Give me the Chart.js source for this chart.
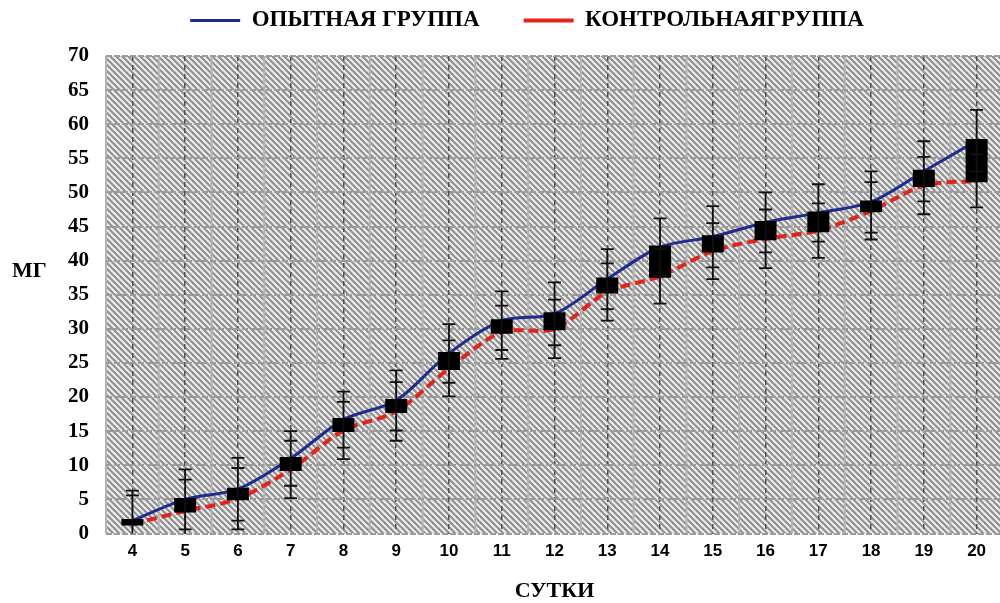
<!DOCTYPE html>
<html>
<head>
<meta charset="utf-8">
<script src="https://cdn.jsdelivr.net/npm/chart.js@4/dist/chart.umd.min.js"></script>
<style>
  html, body { margin: 0; padding: 0; background: #fff; overflow: hidden; }
  #wrap { width: 1003px; height: 603px; position: relative; }
</style>
</head>
<body>
<div id="wrap"><canvas id="grafico"></canvas></div>
<script>
// сутки
var dias = ['4', '5', '6', '7', '8', '9', '10', '11', '12', '13', '14', '15', '16', '17', '18', '19', '20'];
// опытная группа, мг
var opytnaya = [1.9, 5.0, 6.5, 11.0, 16.7, 19.5, 26.4, 31.2, 32.2, 37.3, 42.0, 43.5, 45.6, 47.0, 48.6, 53.1, 57.6];
// контрольная группа, мг
var kontrol = [1.4, 3.3, 5.1, 9.4, 15.1, 17.9, 24.2, 29.5, 30.0, 35.4, 37.7, 41.4, 43.2, 44.4, 47.3, 51.0, 51.7];
// отклонения
var errOpyt = [4.4, 4.4, 4.6, 4.0, 4.1, 4.4, 4.3, 4.3, 4.6, 4.4, 4.2, 4.5, 4.4, 4.2, 4.5, 4.4, 4.5];
var errKontr = [4.2, 4.6, 4.5, 4.2, 4.2, 4.3, 4.1, 3.9, 4.3, 4.2, 4.0, 4.1, 4.3, 4.0, 4.2, 4.2, 3.9];
// ось Y
var yMin = 0, yMax = 70, yStep = 5;

var nomeOpyt = 'ОПЫТНАЯ ГРУППА';
var nomeKontr = 'КОНТРОЛЬНАЯГРУППА';

// штриховка фона
function hatch(ctx) {
  var s = 6;
  var c = document.createElement('canvas');
  c.width = s; c.height = s;
  var g = c.getContext('2d');
  g.fillStyle = '#eeeeee';
  g.fillRect(0, 0, s, s);
  g.strokeStyle = '#909090';
  g.lineWidth = 2.2;
  for (var k = -s; k <= s; k += s) {
    g.beginPath();
    g.moveTo(k - 1, -1);
    g.lineTo(k + s + 1, s + 1);
    g.stroke();
  }
  return ctx.createPattern(c, 'repeat');
}

var fundo = {
  id: 'fundo',
  beforeDraw(chart) {
    var a = chart.chartArea, ctx = chart.ctx, x = chart.scales.x;
    ctx.save();
    ctx.fillStyle = hatch(ctx);
    ctx.fillRect(a.left, a.top, a.right - a.left, a.bottom - a.top);
    // linhas entre categorias
    ctx.strokeStyle = '#b4b4b4';
    ctx.lineWidth = 2;
    for (var i = -1; i < dias.length; i++) {
      var px = (x.getPixelForValue(i) + x.getPixelForValue(i + 1)) / 2;
      ctx.beginPath();
      ctx.moveTo(px, a.top);
      ctx.lineTo(px, a.bottom);
      ctx.stroke();
    }
    ctx.restore();
  },
  afterDraw(chart) {
    var a = chart.chartArea, ctx = chart.ctx;
    ctx.save();
    ctx.fillStyle = '#000';
    ctx.font = 'bold 22px "Liberation Serif"';
    ctx.textBaseline = 'middle';
    ctx.fillText('МГ', 12, a.top + (a.bottom - a.top) * 0.45);
    ctx.restore();
  }
};

var barrasErro = {
  id: 'barrasErro',
  afterDatasetsDraw(chart) {
    var a = chart.chartArea, ctx = chart.ctx;
    var x = chart.scales.x, y = chart.scales.y;
    ctx.save();
    ctx.beginPath();
    ctx.rect(a.left, a.top, a.right - a.left, a.bottom - a.top);
    ctx.clip();
    ctx.strokeStyle = '#111';
    ctx.lineWidth = 1.8;
    dias.forEach(function (d, i) {
      var px = x.getPixelForValue(i);
      var ends = [opytnaya[i] + errOpyt[i], opytnaya[i] - errOpyt[i], kontrol[i] + errKontr[i], kontrol[i] - errKontr[i]];
      var top = Math.max.apply(null, ends), bot = Math.min.apply(null, ends);
      ctx.beginPath();
      ctx.moveTo(px, y.getPixelForValue(top));
      ctx.lineTo(px, y.getPixelForValue(bot));
      ends.forEach(function (v) {
        var py = y.getPixelForValue(v);
        ctx.moveTo(px - 6.5, py);
        ctx.lineTo(px + 6.5, py);
      });
      ctx.stroke();
    });
    ctx.restore();
  }
};

new Chart(document.getElementById('grafico'), {
  data: {
    labels: dias,
    datasets: [{
      type: 'line',
      label: nomeOpyt,
      data: opytnaya,
      borderColor: '#1f2b8f',
      backgroundColor: '#1f2b8f',
      borderWidth: 3,
      pointRadius: 0,
      tension: 0.3,
      order: 2
    }, {
      type: 'line',
      label: nomeKontr,
      data: kontrol,
      borderColor: '#e3241a',
      backgroundColor: '#e3241a',
      borderWidth: 4,
      borderDash: [10, 5],
      pointRadius: 0,
      tension: 0.3,
      order: 3
    }, {
      type: 'bar',
      label: 'updown',
      data: dias.map(function (d, i) { return [kontrol[i], opytnaya[i]]; }),
      backgroundColor: '#000',
      barThickness: 19,
      inflateAmount: 1.5,
      order: 1
    }]
  },
  options: {
    responsive: true,
    maintainAspectRatio: false,
    animation: false,
    // topo negativo compensa o padding grande da legenda
    layout: { padding: { left: 51, top: -35, right: 0, bottom: 0 } },
    plugins: {
      tooltip: { enabled: false },
      // espaçador vazio entre a legenda e o gráfico
      title: { display: true, text: '', weight: 100, padding: { top: 2, bottom: 2 }, font: { size: 10, lineHeight: 1 } },
      legend: {
        position: 'top',
        labels: {
          usePointStyle: true,
          pointStyle: 'line',
          pointStyleWidth: 50,
          color: '#000',
          padding: 44,
          font: { family: '"Liberation Serif"', size: 23, weight: 'bold' },
          filter: function (item) { return item.datasetIndex < 2; }
        }
      }
    },
    scales: {
      x: {
        type: 'category',
        offset: true,
        grid: { offset: false, color: '#505050', lineWidth: 1.5, drawTicks: false },
        border: { display: false, dash: [5, 4] },
        ticks: { color: '#000', padding: 8, font: { family: '"Liberation Sans"', size: 17, weight: 'bold' } },
        title: {
          display: true,
          text: 'СУТКИ',
          color: '#000',
          padding: { top: 10, bottom: 0 },
          font: { family: '"Liberation Serif"', size: 22, weight: 'bold', lineHeight: 1.05 }
        }
      },
      y: {
        min: yMin,
        max: yMax,
        grid: { color: '#9c9c9c', lineWidth: 2, drawTicks: false },
        border: { display: false, dash: [6, 2] },
        ticks: { stepSize: yStep, color: '#000', padding: 17, font: { family: '"Liberation Serif"', size: 21, weight: 'bold' } }
      }
    }
  },
  plugins: [fundo, barrasErro]
});
</script>
</body>
</html>
